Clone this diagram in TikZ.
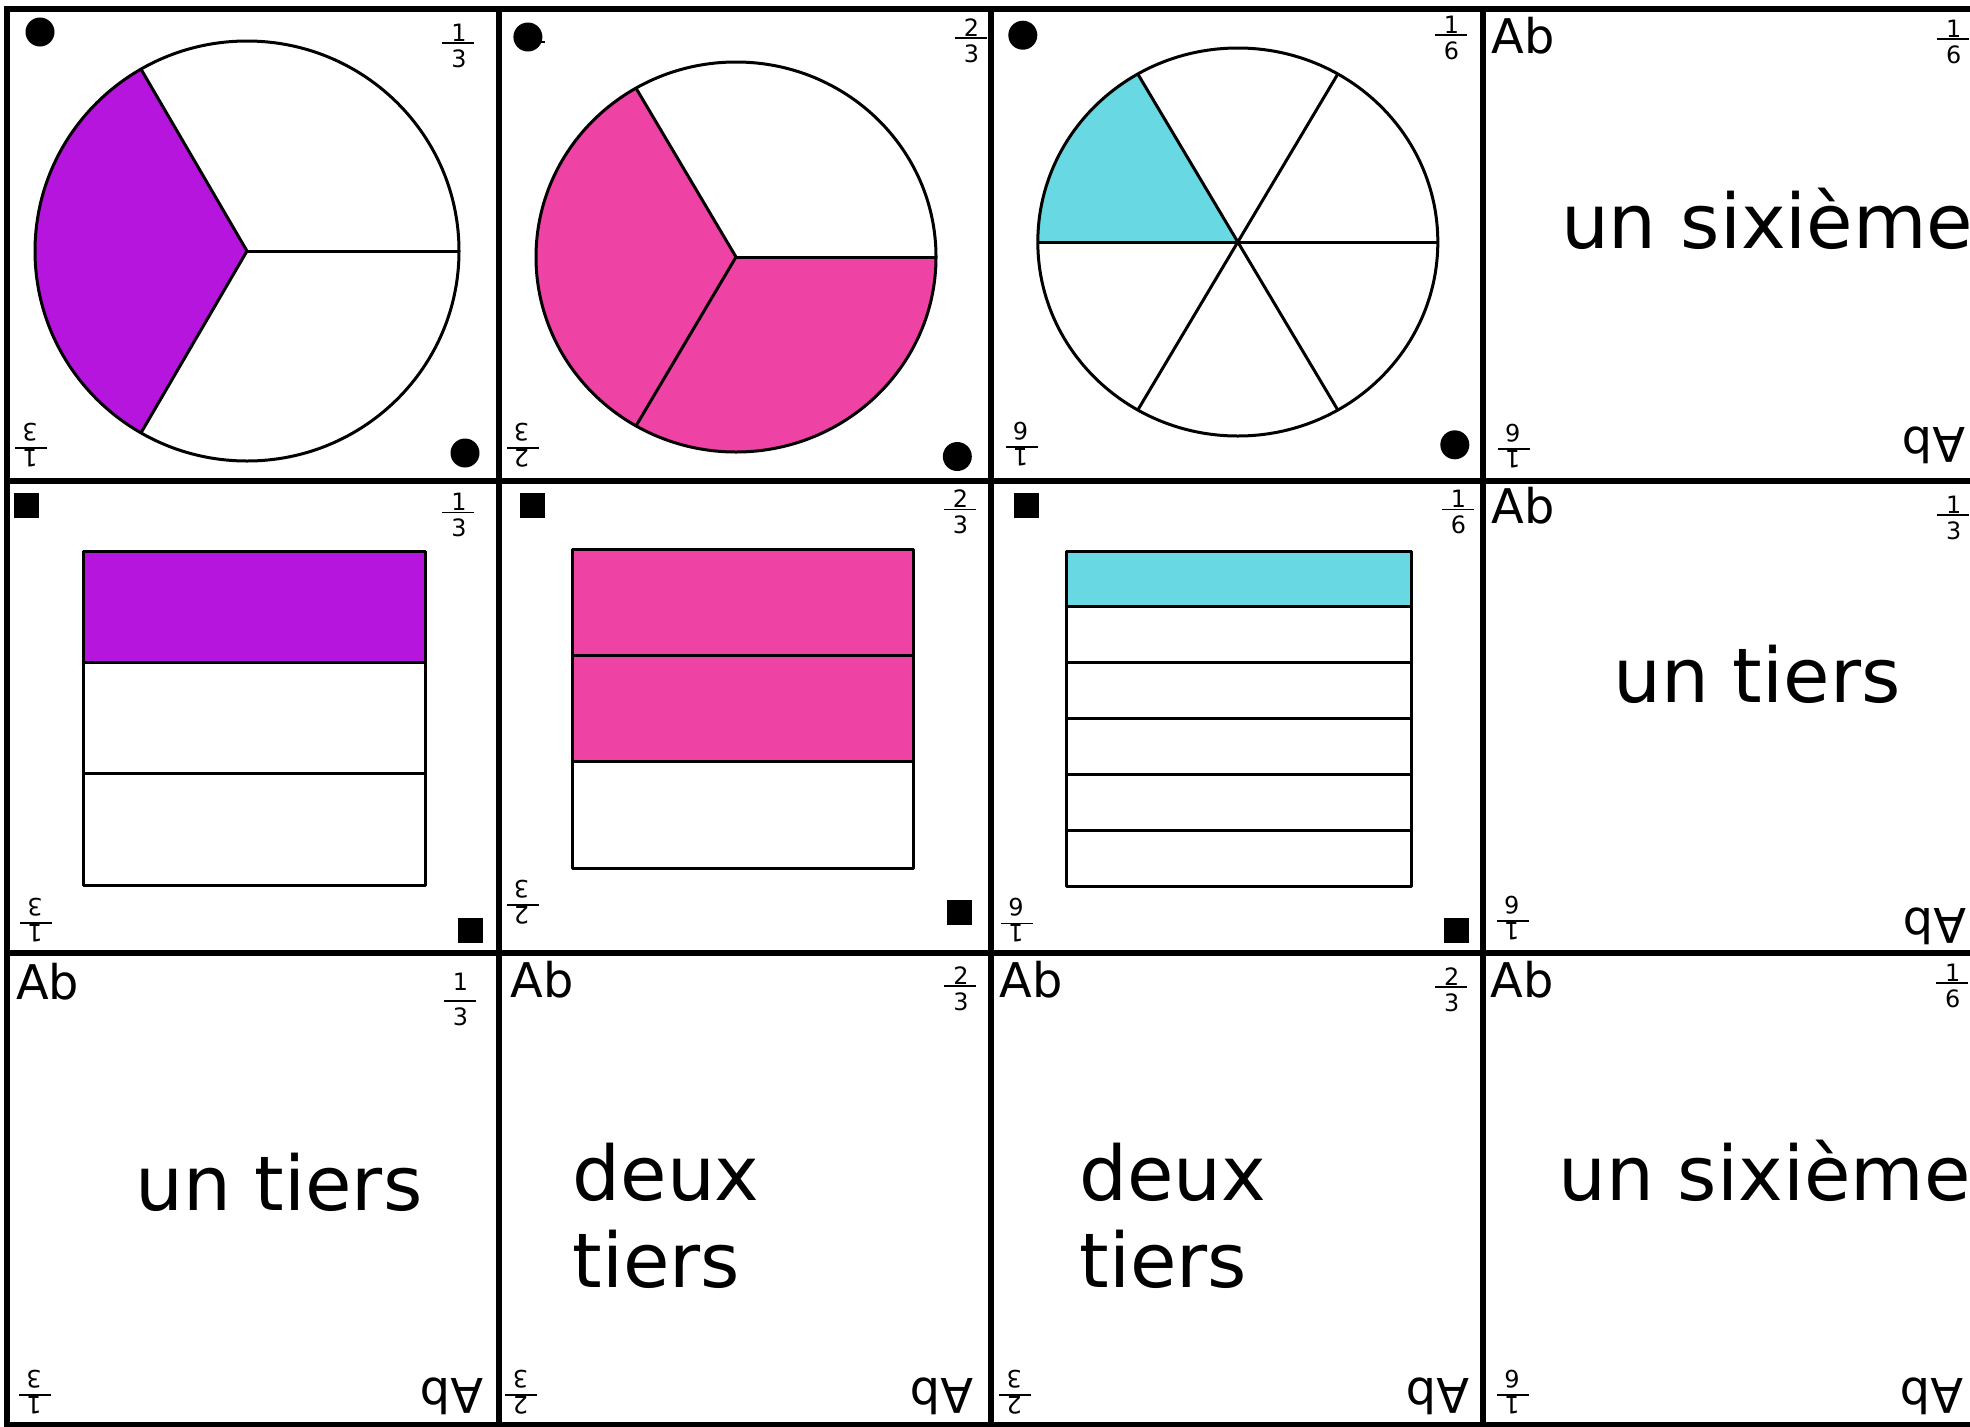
\documentclass[tikz,border=0pt]{standalone}
\usepackage{fontspec}
\setmainfont{DejaVu Sans}
\usetikzlibrary{positioning}

\definecolor{thirdpurple}{RGB}{181,21,220}
\definecolor{twothirdpink}{RGB}{238,66,164}
\definecolor{sixthcyan}{RGB}{104,216,226}

\tikzset{
  cell/.style 2 args={shift={({#1*4.919+0.07},{#2*4.72+0.085})}},
  card/.style={draw, line width=0.06cm},
  part/.style={draw, line width=0.03cm, line join=round},
  dotmark/.style={circle, fill=black, inner sep=0, minimum size=0.29cm},
  sqmark/.style={rectangle, fill=black, inner sep=0, minimum size=0.25cm},
  abtxt/.style={inner sep=0, font=\fontsize{13.6}{16}\selectfont},
  wordtxt/.style={inner sep=0, font=\fontsize{21.5}{24.7}\selectfont},
  fracnum/.style={inner sep=0, font=\fontsize{6.8}{8}\selectfont},
  turned/.style={rotate=180, transform shape},
  num raise/.store in=\numraise, num raise=0.015,
  pics/frac/.style 2 args={code={
    \draw[line width=0.015cm] (-0.16,0) -- (0.16,0);
    \node[fracnum, anchor=base] (-n) at (0.01,-\numraise) {#1};
    \node[fracnum, anchor=base] (-d) at (0.01,0.245) {#2};
  }},
}

\begin{document}
\begin{tikzpicture}[y=-1cm]
  \useasboundingbox (0,0) rectangle (19.70,14.26);
  \clip (0,0) rectangle (19.70,14.26);

  % card frames
  \foreach \c in {0,...,3}
    \foreach \r in {0,1,2}
      \draw[card, cell={\c}{\r}] (0,0) rectangle (4.919,4.72);

  % ---- row 1 : discs ----
  \begin{scope}[cell={0}{0}]
    \coordinate (o1) at (2.40,2.425);
    \fill[thirdpurple] (o1) -- ++(120:2.12 and 2.10)
      arc[start angle=120, end angle=240, x radius=2.12, y radius=2.10] -- cycle;
    \draw[part] (o1) ellipse[x radius=2.12, y radius=2.10];
    \foreach \a in {0,120,240} \draw[part] (o1) -- ++(\a:2.12 and 2.10);
    \node[dotmark] (d1a) at (0.33,0.235) {};
    \node[dotmark] (d1b) at (4.58,4.445) {};
    \pic (f1a) at (4.51,0.345) {frac={1}{3}};
    \pic[turned] (f1b) at (0.24,4.395) {frac={1}{3}};
  \end{scope}

  \begin{scope}[cell={1}{0}]
    \coordinate (o2) at (2.371,2.485);
    \fill[twothirdpink] (o2) -- ++(0:2.00 and 1.95)
      arc[start angle=0, end angle=240, x radius=2.00, y radius=1.95] -- cycle;
    \draw[part] (o2) ellipse[x radius=2.00, y radius=1.95];
    \foreach \a in {0,120,240} \draw[part] (o2) -- ++(\a:2.00 and 1.95);
    \node[dotmark] (d2a) at (0.29,0.285) {};
    \draw[line width=0.015cm] (0.38,0.335) -- (0.46,0.335);
    \node[dotmark] (d2b) at (4.584,4.48) {};
    \pic (f2a) at (4.716,0.295) {frac={2}{3}};
    \pic[turned] (f2b) at (0.236,4.395) {frac={2}{3}};
  \end{scope}

  \begin{scope}[cell={2}{0}]
    \coordinate (o3) at (2.47,2.335);
    \fill[sixthcyan] (o3) -- ++(180:2.00 and 1.94)
      arc[start angle=180, end angle=240, x radius=2.00, y radius=1.94] -- cycle;
    \draw[part] (o3) ellipse[x radius=2.00, y radius=1.94];
    \foreach \a in {0,60,...,300} \draw[part] (o3) -- ++(\a:2.00 and 1.94);
    \node[dotmark] (d3a) at (0.32,0.267) {};
    \node[dotmark] (d3b) at (4.64,4.363) {};
    \pic (f3a) at (4.597,0.267) {frac={1}{6}};
    \pic[turned] (f3b) at (0.307,4.385) {frac={1}{6}};
  \end{scope}

  \begin{scope}[cell={3}{0}]
    \node[abtxt, anchor=base west] (ab4a) at (0.083,0.445) {Ab};
    \node[wordtxt, anchor=base west] (w4) at (0.776,2.395) {un sixième};
    \node[abtxt, rotate=180, anchor=base west] (ab4b) at (4.833,4.19) {Ab};
    \pic (f4a) at (4.70,0.305) {frac={1}{6}};
    \pic[turned] (f4b) at (0.31,4.405) {frac={1}{6}};
  \end{scope}

  % ---- row 2 : bars ----
  \begin{scope}[cell={0}{1}]
    \fill[thirdpurple] (0.76,0.705) rectangle (4.18,1.818);
    \draw[part] (0.76,0.705) rectangle (4.18,4.045);
    \foreach \k in {1,2} \draw[part] (0.76,{0.705+\k*1.113}) -- (4.18,{0.705+\k*1.113});
    \node[sqmark] (s5a) at (0.19,0.245) {};
    \node[sqmark] (s5b) at (4.63,4.50) {};
    \pic (f5a) at (4.51,0.318) {frac={1}{3}};
    \pic[turned] (f5b) at (0.29,4.425) {frac={1}{3}};
  \end{scope}

  \begin{scope}[cell={1}{1}]
    \fill[twothirdpink] (0.74,0.685) rectangle (4.15,2.812);
    \draw[part] (0.74,0.685) rectangle (4.15,3.875);
    \foreach \k in {1,2} \draw[part] (0.74,{0.685+\k*1.0633}) -- (4.15,{0.685+\k*1.0633});
    \node[sqmark] (s6a) at (0.34,0.245) {};
    \node[sqmark] (s6b) at (4.606,4.315) {};
    \pic (f6a) at (4.606,0.288) {frac={2}{3}};
    \pic[turned] (f6b) at (0.236,4.245) {frac={2}{3}};
  \end{scope}

  \begin{scope}[cell={2}{1}]
    \fill[sixthcyan] (0.76,0.705) rectangle (4.21,1.263);
    \draw[part] (0.76,0.705) rectangle (4.21,4.055);
    \foreach \k in {1,...,5} \draw[part] (0.76,{0.705+\k*0.5583}) -- (4.21,{0.705+\k*0.5583});
    \node[sqmark] (s7a) at (0.36,0.245) {};
    \node[sqmark] (s7b) at (4.66,4.495) {};
    \pic (f7a) at (4.667,0.288) {frac={1}{6}};
    \pic[turned] (f7b) at (0.262,4.428) {frac={1}{6}};
  \end{scope}

  \begin{scope}[cell={3}{1}]
    \node[abtxt, anchor=base west] (ab8a) at (0.083,0.425) {Ab};
    \node[wordtxt, anchor=base west] (w8) at (1.297,2.215) {un tiers};
    \node[abtxt, rotate=180, anchor=base west] (ab8b) at (4.84,4.275) {Ab};
    \pic (f8a) at (4.70,0.345) {frac={1}{3}};
    \pic[turned] (f8b) at (0.30,4.405) {frac={1}{6}};
  \end{scope}

  % ---- row 3 : words ----
  \begin{scope}[cell={0}{2}]
    \node[abtxt, anchor=base west] (ab9a) at (0.085,0.465) {Ab};
    \node[wordtxt, anchor=base west] (w9) at (1.274,2.575) {un tiers};
    \node[abtxt, rotate=180, anchor=base west] (ab9b) at (4.77,4.255) {Ab};
    \pic[num raise=0.11] (f9a) at (4.525,0.485) {frac={1}{3}};
    \pic[turned] (f9b) at (0.28,4.425) {frac={1}{3}};
  \end{scope}

  \begin{scope}[cell={1}{2}]
    \node[abtxt, anchor=base west] (ab10a) at (0.11,0.445) {Ab};
    \node[wordtxt, anchor=base west] (w10a) at (0.73,2.475) {deux};
    \node[wordtxt, anchor=base west] (w10b) at (0.73,3.345) {tiers};
    \node[abtxt, rotate=180, anchor=base west] (ab10b) at (4.75,4.255) {Ab};
    \pic (f10a) at (4.61,0.335) {frac={2}{3}};
    \pic[turned] (f10b) at (0.225,4.425) {frac={2}{3}};
  \end{scope}

  \begin{scope}[cell={2}{2}]
    \node[abtxt, anchor=base west] (ab11a) at (0.08,0.445) {Ab};
    \node[wordtxt, anchor=base west] (w11a) at (0.88,2.475) {deux};
    \node[wordtxt, anchor=base west] (w11b) at (0.88,3.345) {tiers};
    \node[abtxt, rotate=180, anchor=base west] (ab11b) at (4.79,4.255) {Ab};
    \pic (f11a) at (4.60,0.345) {frac={2}{3}};
    \pic[turned] (f11b) at (0.244,4.425) {frac={2}{3}};
  \end{scope}

  \begin{scope}[cell={3}{2}]
    \node[abtxt, anchor=base west] (ab12a) at (0.075,0.445) {Ab};
    \node[wordtxt, anchor=base west] (w12) at (0.747,2.475) {un sixième};
    \node[abtxt, rotate=180, anchor=base west] (ab12b) at (4.81,4.255) {Ab};
    \pic (f12a) at (4.69,0.305) {frac={1}{6}};
    \pic[turned] (f12b) at (0.303,4.425) {frac={1}{6}};
  \end{scope}
\end{tikzpicture}
\end{document}
